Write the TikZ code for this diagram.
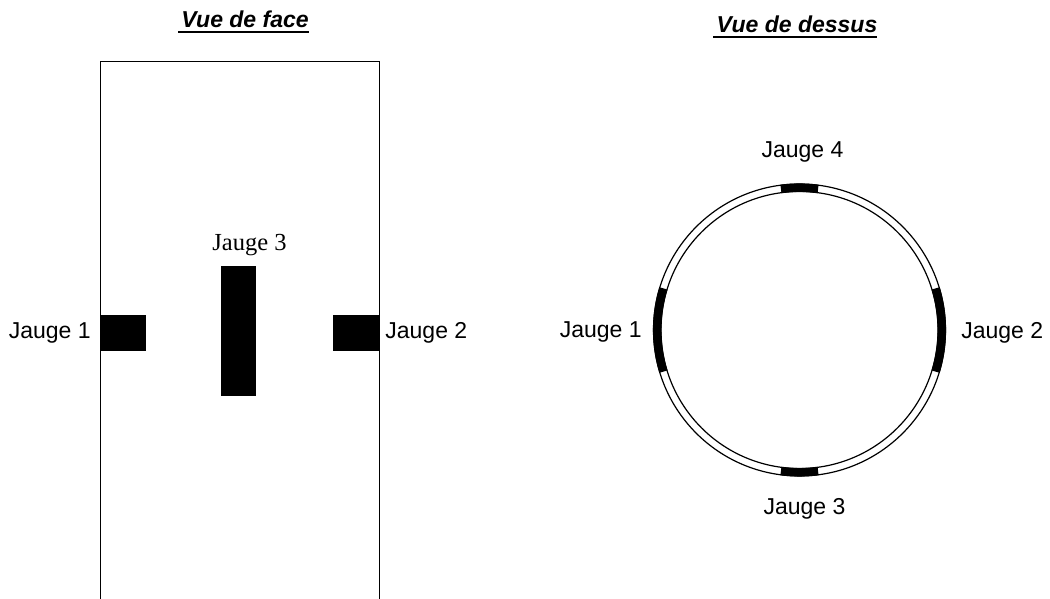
\documentclass[tikz,border=0pt]{standalone}
\usepackage{fontspec}
\setmainfont{Liberation Sans}
\newfontfamily\timesfont{Liberation Serif}
\usetikzlibrary{positioning}
\tikzstyle{jauge}=[
	rectangle,
	fill=black,
	inner sep=0pt
]
\tikzstyle{jaugelabel}=[
	font=\fontsize{23}{27}\selectfont,
	inner sep=0pt,
	node distance=9pt
]
\tikzstyle{viewtitle}=[
	font=\fontsize{23}{27}\selectfont\bfseries\itshape,
	anchor=base,
	inner sep=0pt
]
\tikzstyle{ring}=[
	circle,
	draw,
	line width=1.2pt,
	inner sep=0pt
]
\begin{document}
\begin{tikzpicture}[x=1pt,y=1pt]
\useasboundingbox (0,0) rectangle (1050,599);
% vue de face
\node [viewtitle] (titleFace) at (245,571) {Vue de face};
\draw [line width=1.3pt] (178,567) -- (309,567);
\draw [line width=1pt] (100,0) -- (100,537) -- (379,537) -- (379,0);
\node [jauge, minimum width=46pt, minimum height=36pt] (faceOne) at (123,266) {};
\node [jauge, minimum width=46pt, minimum height=36pt] (faceTwo) at (356,266) {};
\node [jauge, minimum width=35pt, minimum height=130pt] (faceThree) at (238.5,268) {};
\node [jaugelabel, left=of faceOne] {Jauge 1};
\node [jaugelabel, right=6pt of faceTwo] {Jauge 2};
\node [jaugelabel, above=10pt of faceThree, xshift=11pt, font=\fontsize{24.5}{27}\selectfont\timesfont] {Jauge 3};
% vue de dessus
\node [viewtitle] (titleTop) at (797,566) {Vue de dessus};
\draw [line width=1.3pt] (713,562) -- (877,562);
\node [ring, minimum size=292pt] (ringOut) at (799.5,269) {};
\node [ring, minimum size=277pt] (ringIn) at (799.5,269) {};
\foreach \a/\h in {90/7.5,270/7.5,180/17,0/17}
	\draw [line width=8.5pt] (799.5,269) ++(\a-\h:142.3) arc (\a-\h:\a+\h:142.3);
\node [jaugelabel, above=21pt of ringOut, xshift=3pt] {Jauge 4};
\node [jaugelabel, below=22pt of ringOut, xshift=5pt] {Jauge 3};
\node [jaugelabel, left=11pt of ringOut, yshift=-2pt] {Jauge 1};
\node [jaugelabel, right=15pt of ringOut, yshift=-3pt] {Jauge 2};
\end{tikzpicture}
\end{document}
